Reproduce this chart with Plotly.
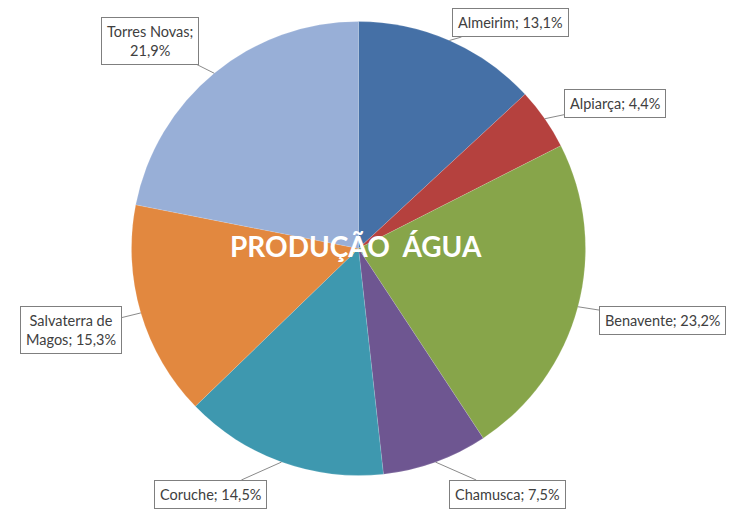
import math
import plotly.graph_objects as go

# ---- data ----
municipios = ["Almeirim", "Alpiarça", "Benavente", "Chamusca", "Coruche",
              "Salvaterra de Magos", "Torres Novas"]
percentagens = [13.1, 4.4, 23.2, 7.5, 14.5, 15.3, 21.9]
rotulos = ["Almeirim; 13,1%", "Alpiarça; 4,4%", "Benavente; 23,2%", "Chamusca; 7,5%",
           "Coruche; 14,5%", "Salvaterra de<br>Magos; 15,3%", "Torres Novas;<br>21,9%"]
titulo = "PRODUÇÃO  ÁGUA"

# ---- styling ----
cores = ["#4570A6", "#B5413E", "#87A54A", "#6E5691", "#3E98AF", "#E2883F", "#98AFD7"]
W, H = 735, 511
cx, cy, R = 358.5, 248.5, 227.0  # pie centre / radius in pixels
# label box centres in pixels
label_pos = [(510, 23), (615, 104), (662, 320), (508, 494), (210, 494), (71, 330), (150, 41)]

fig = go.Figure(go.Pie(
    labels=municipios, values=percentagens, sort=False, direction="clockwise",
    rotation=0, textinfo="none", hoverinfo="label+percent",
    marker=dict(colors=cores, line=dict(color="rgba(255,255,255,0.25)", width=0.5)),
    domain=dict(x=[(cx - R) / W, (cx + R) / W], y=[1 - (cy + R) / H, 1 - (cy - R) / H]),
    showlegend=False,
))

total = sum(percentagens)
cum = 0.0
anns = []
for v, txt, (lx, ly) in zip(percentagens, rotulos, label_pos):
    mid = (cum + v / 2) / total * 2 * math.pi
    cum += v
    ex = cx + R * math.sin(mid)
    ey = cy - R * math.cos(mid)
    anns.append(dict(
        x=ex / W, y=1 - ey / H, xref="paper", yref="paper",
        ax=lx - ex, ay=ly - ey, axref="pixel", ayref="pixel",
        text=txt, showarrow=True, arrowhead=0, arrowwidth=1, arrowcolor="#8a8a8a",
        font=dict(family="Lato, Open Sans, sans-serif", size=14.5, color="#404040"),
        bgcolor="white", bordercolor="#7f7f7f", borderwidth=1, borderpad=5, align="center",
    ))

anns.append(dict(
    x=356 / W, y=1 - 246 / H, xref="paper", yref="paper", showarrow=False,
    text="<b>" + titulo + "</b>",
    font=dict(family="Lato, Open Sans, sans-serif", size=28, color="white"),
))

fig.update_layout(
    width=W, height=H, margin=dict(l=0, r=0, t=0, b=0),
    paper_bgcolor="white", plot_bgcolor="white", annotations=anns,
)

fig.write_html("out.html", config={"displayModeBar": False},
               post_script="document.body.style.margin='0';")
